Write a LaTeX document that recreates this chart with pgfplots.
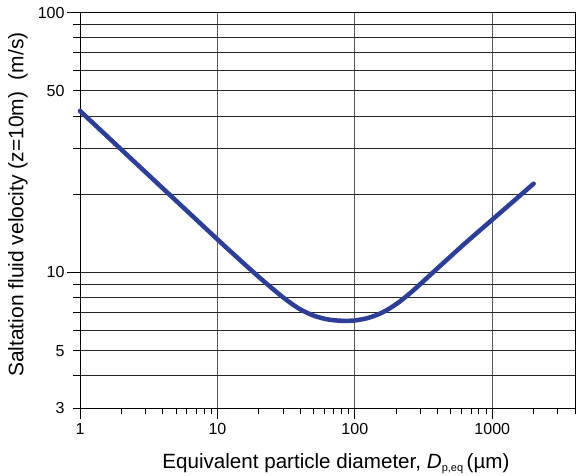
\documentclass[border=0pt]{standalone}
\usepackage{pgfplots}
\pgfplotsset{compat=1.18}
\usepackage{fontspec}
\setmainfont{Liberation Sans}
\definecolor{curveblue}{RGB}{44,62,150}
\begin{document}
\begin{tikzpicture}
\begin{axis}[
  scale only axis, width=495pt, height=395.6pt,
  xmode=log, ymode=log,
  xmin=1, xmax=4000, ymin=3, ymax=100,
  clip=false,
  axis line style={black, line width=0.9pt},
  tick pos=left, tick align=outside,
  tick style={black, line width=0.9pt},
  xtick={1,10,100,1000}, xticklabels={1,10,100,1000},
  minor xtick={2,3,4,5,6,7,8,9,20,30,40,50,60,70,80,90,200,300,400,500,600,700,800,900,2000,3000,4000},
  ytick={3,4,5,6,7,8,9,10,20,30,40,50,60,70,80,90,100},
  yticklabels={3,,5,,,,,10,,,,50,,,,,100},
  extra y ticks={10,100}, extra y tick labels={},
  extra y tick style={major tick length=13pt, grid=none},
  extra x ticks={1,10,100,1000}, extra x tick labels={},
  extra x tick style={major tick length=11pt, grid=none},
  major tick length=7pt, minor tick length=6pt,
  xmajorgrids, ymajorgrids,
  x grid style={black!65, line width=0.9pt},
  y grid style={black!85, line width=0.9pt},
  tick label style={font=\fontsize{16}{16}\selectfont},
  xticklabel style={yshift=-5pt},
  yticklabel style={xshift=-5pt},
  xlabel={Equivalent particle diameter, \textit{D}\raisebox{-0.35ex}{\fontsize{11}{11}\selectfont p,eq}\,(µm)},
  ylabel={Saltation fluid velocity (z=10m)\hspace{0.55em}(m/s)},
  xlabel style={font=\fontsize{20.6}{24}\selectfont, at={(axis description cs:0.517,-0.151)}, anchor=base},
  ylabel style={font=\fontsize{21}{24}\selectfont, at={(axis description cs:-0.1145,0.515)}, anchor=base, rotate=0},
]
\addplot[curveblue, line width=4.5pt, smooth, line cap=round, line join=round] coordinates {
(1,41.88) (3.162,23.69) (10,13.41) (12.59,11.99) (15.85,10.73) (19.95,9.627)
(25.12,8.667) (31.62,7.857) (39.81,7.225) (50.12,6.821) (63.10,6.600)
(79.43,6.518) (100,6.536) (125.9,6.691) (158.5,7.012) (199.5,7.545)
(251.2,8.303) (316.2,9.261) (398.1,10.36) (631.0,12.92) (1000,15.97)
(1413,18.72) (2000,21.97)
};
\end{axis}
\pgfresetboundingbox
\path[use as bounding box] ([xshift=-80pt,yshift=-67.7pt]current axis.south west) rectangle ([xshift=8pt,yshift=12.7pt]current axis.north east);
\end{tikzpicture}
\end{document}
